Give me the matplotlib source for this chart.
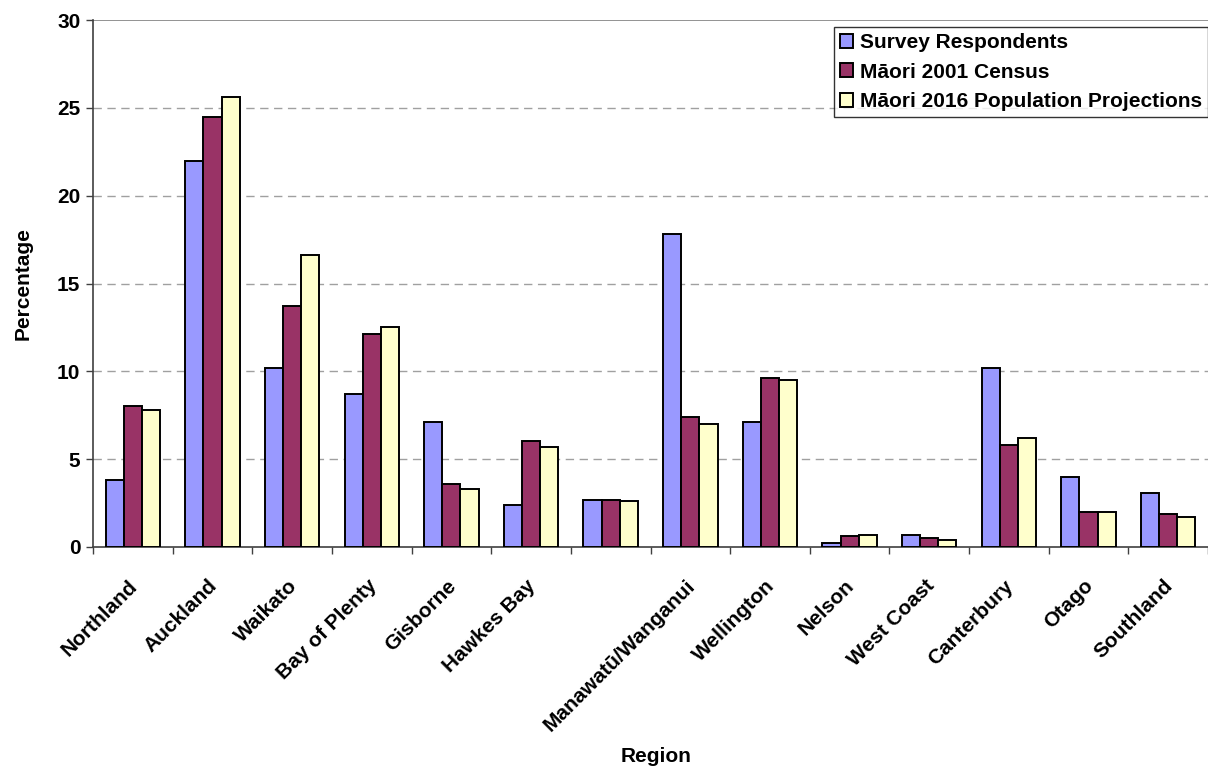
import matplotlib.pyplot as plt
import numpy as np

regions = ["Northland", "Auckland", "Waikato", "Bay of Plenty", "Gisborne",
           "Hawkes Bay", "", "Manawatū/Wanganui", "Wellington", "Nelson",
           "West Coast", "Canterbury", "Otago", "Southland"]
survey = [3.8, 22.0, 10.2, 8.7, 7.1, 2.4, 2.7, 17.8, 7.1, 0.2, 0.7, 10.2, 4.0, 3.1]
census_2001 = [8.0, 24.5, 13.7, 12.1, 3.6, 6.05, 2.7, 7.4, 9.6, 0.6, 0.5, 5.8, 2.0, 1.9]
projection_2016 = [7.8, 25.6, 16.6, 12.5, 3.3, 5.7, 2.6, 7.0, 9.5, 0.7, 0.4, 6.2, 2.0, 1.7]
series_names = ["Survey Respondents", "Māori 2001 Census", "Māori 2016 Population Projections"]
colors = ["#9999FF", "#993366", "#FFFFCC"]

plt.rcParams['font.family'] = ['Liberation Sans', 'DejaVu Sans']
plt.rcParams['font.weight'] = 'bold'
FS = 15

fig = plt.figure(figsize=(12.08, 7.71), dpi=100)
ax = fig.add_axes([93 / 1208, 1 - 547 / 771, 1 - 93 / 1208, (547 - 20) / 771])

n = len(regions)
x = np.arange(n)
w = 0.228
for i, (vals, name, c) in enumerate(zip([survey, census_2001, projection_2016], series_names, colors)):
    ax.bar(x + (i - 1) * w, vals, width=w, color=c, edgecolor="black",
           linewidth=1.4, label=name, zorder=3)

ax.set_xlim(-0.5, n - 0.5)
ax.set_ylim(0, 30)
ax.set_yticks(np.arange(0, 31, 5))
for v in range(5, 30, 5):
    ax.axhline(v, color="#a0a0a0", linestyle=(0, (6, 4)), linewidth=1.0, zorder=1)
ax.axhline(30, color="#808080", linewidth=1.2, zorder=1)

ax.set_xticks(np.arange(-0.5, n, 1.0))
ax.set_xticklabels([])
ax.tick_params(axis="x", length=5, width=1, color="#404040")
ax.tick_params(axis="y", length=5, width=1, color="#404040", labelsize=FS, pad=4)
for lbl in ax.get_yticklabels():
    lbl.set_fontweight("bold")

for s in ["top", "right"]:
    ax.spines[s].set_visible(False)
ax.spines["left"].set_color("#404040")
ax.spines["bottom"].set_color("#404040")
ax.spines["left"].set_linewidth(1.2)
ax.spines["bottom"].set_linewidth(1.2)

# rotated category labels, ending just under each group's centre
for xi, name in zip(x, regions):
    if name:
        ax.annotate(name, xy=(xi, 0), xycoords=("data", "axes fraction"),
                    xytext=(-3.5, -21), textcoords="offset points",
                    rotation=45, ha="right", va="top", rotation_mode="anchor",
                    fontsize=FS, fontweight="bold", annotation_clip=False)

fig.text(23 / 1208, 1 - 284 / 771, "Percentage", rotation=90, ha="center",
         va="center", fontsize=FS, fontweight="bold")
fig.text(656 / 1208, 1 - 757 / 771, "Region", ha="center", va="center",
         fontsize=FS, fontweight="bold")

leg = ax.legend(loc="upper right", bbox_to_anchor=(1.0, 1 - 7 / 527), frameon=True,
                fancybox=False, edgecolor="black", fontsize=FS,
                handlelength=0.65, handleheight=0.65, handletextpad=0.3,
                borderpad=0.3, labelspacing=0.5, borderaxespad=0)
leg.get_frame().set_linewidth(1.0)
for t in leg.get_texts():
    t.set_fontweight("bold")

fig.savefig("out.png", dpi=100)
